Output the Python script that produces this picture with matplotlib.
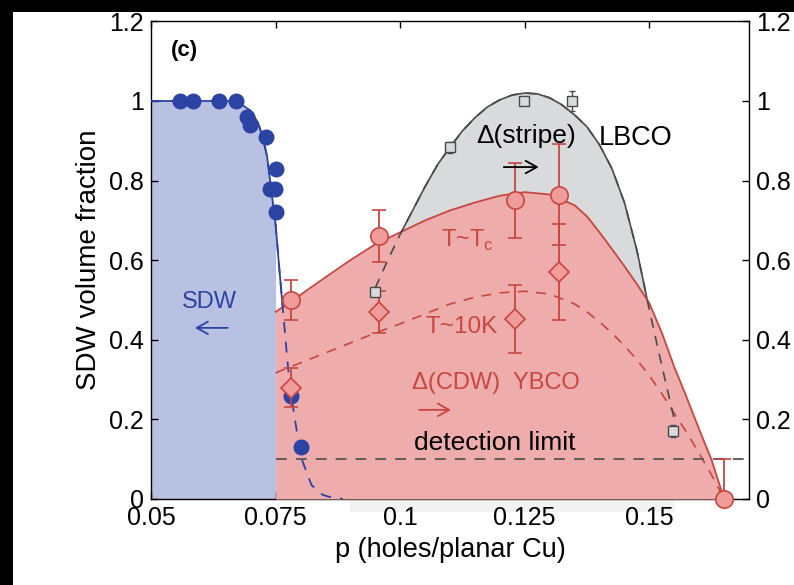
"""
SDW volume fraction vs hole doping: SDW (blue), YBCO CDW (red), LBCO stripe (grey)
"""

import matplotlib.pyplot as plt
import numpy as np
from matplotlib.patches import Rectangle

plt.rcParams.update({
    'font.family': ['Liberation Sans', 'DejaVu Sans'],
    'font.size': 18,
    'axes.linewidth': 1.0,
})

# ── colours ────────────────────────────────────────────────
C_BLUE      = '#2B43A3'
C_BLUE_FILL = '#B9C1E3'
C_RED       = '#C8463E'
C_RED_FILL  = '#EFACAC'
C_RED_MARK  = '#F09C9A'
C_GREY      = '#4A4A4A'
C_GREY_FILL = '#D9DADC'

# ── data ───────────────────────────────────────────────────
# SDW muSR points
sdw_p    = [0.0558, 0.0584, 0.0636, 0.0670, 0.0692, 0.0698, 0.0730,
            0.0750, 0.0738, 0.0748, 0.0750, 0.0780, 0.0802]
sdw_frac = [1.00, 1.00, 1.00, 1.00, 0.96, 0.94, 0.91,
            0.83, 0.78, 0.78, 0.72, 0.26, 0.13]

# SDW guide line
sdw_fit_p = [0.0500, 0.0660, 0.0678, 0.0700, 0.0715, 0.0725, 0.0733, 0.0740,
             0.0750, 0.0756, 0.0763, 0.0770, 0.0775, 0.0780, 0.0792, 0.0804,
             0.0822, 0.0845, 0.0865, 0.0885]
sdw_fit   = [1.000, 1.000, 0.995, 0.975, 0.945, 0.905, 0.860, 0.790,
             0.690, 0.600, 0.500, 0.400, 0.330, 0.270, 0.175, 0.095,
             0.035, 0.010, 0.003, 0.000]

# YBCO CDW at T~Tc (circles) and T~10K (diamonds)
tc_p      = [0.0780, 0.0958, 0.1230, 0.1318, 0.1650]
tc_frac   = [0.500, 0.660, 0.750, 0.765, 0.000]
tc_err_lo = [0.050, 0.065, 0.093, 0.128, 0.000]
tc_err_hi = [0.050, 0.065, 0.093, 0.128, 0.100]

k10_p    = [0.0780, 0.0958, 0.1230, 0.1318]
k10_frac = [0.280, 0.470, 0.452, 0.570]
k10_err  = [0.050, 0.053, 0.085, 0.120]

# guide lines for the two YBCO sets
ybco_fit_p = [0.0750, 0.0800, 0.0850, 0.0900, 0.0950, 0.1000, 0.1050, 0.1100,
              0.1150, 0.1200, 0.1250, 0.1300, 0.1350, 0.1375, 0.1400, 0.1425,
              0.1450, 0.1475, 0.1500, 0.1525, 0.1550, 0.1575, 0.1600, 0.1625,
              0.1650]
tc_fit     = [0.470, 0.513, 0.557, 0.600, 0.640, 0.670, 0.700, 0.725,
              0.745, 0.762, 0.771, 0.765, 0.738, 0.710, 0.670, 0.628,
              0.585, 0.540, 0.492, 0.418, 0.332, 0.255, 0.175, 0.098,
              0.000]
k10_fit    = [0.317, 0.342, 0.367, 0.392, 0.417, 0.440, 0.465, 0.490,
              0.507, 0.518, 0.522, 0.515, 0.490, 0.470, 0.445, 0.417,
              0.385, 0.350, 0.310, 0.265, 0.215, 0.167, 0.115, 0.060,
              0.000]

# LBCO stripe order (squares)
lbco_p    = [0.0950, 0.1100, 0.1248, 0.1344, 0.1548]
lbco_frac = [0.520, 0.884, 1.000, 1.000, 0.170]
lbco_err  = [0.000, 0.014, 0.000, 0.024, 0.015]

lbco_fit_p = [0.0950, 0.0975, 0.1000, 0.1025, 0.1050, 0.1075, 0.1100, 0.1125, 0.1150,
              0.1175, 0.1200, 0.1225, 0.1250, 0.1275, 0.1300, 0.1325, 0.1350, 0.1375,
              0.1400, 0.1425, 0.1450, 0.1475, 0.1500, 0.1525, 0.1550]
lbco_fit   = [0.530, 0.600, 0.665, 0.725, 0.785, 0.840, 0.884, 0.925, 0.958,
              0.985, 1.003, 1.015, 1.020, 1.018, 1.008, 0.990, 0.965, 0.935,
              0.890, 0.830, 0.745, 0.625, 0.475, 0.335, 0.200]

DETECTION_LIMIT = 0.1
SDW_EDGE = 0.075

x_ticks = [0.05, 0.075, 0.1, 0.125, 0.15]
x_ticklabels = ['0.05', '0.075', '0.1', '0.125', '0.15']
y_ticks = [0, 0.2, 0.4, 0.6, 0.8, 1.0, 1.2]
y_ticklabels = ['0', '0.2', '0.4', '0.6', '0.8', '1', '1.2']

# ── canvas ─────────────────────────────────────────────────
W, H = 794, 585
fig = plt.figure(figsize=(W / 100, H / 100), dpi=100, facecolor='black')
fig.add_artist(Rectangle((13 / W, 0), 1, 1 - 12 / H, transform=fig.transFigure,
                         facecolor='white', edgecolor='none', zorder=-10))
fig.add_artist(Rectangle((350 / W, 1 - 512 / H), 325 / W, 13 / H,
                         transform=fig.transFigure, facecolor='#F2F2F2',
                         edgecolor='none', zorder=-9))

ax = fig.add_axes([151 / W, 86 / H, 598 / W, 477.6 / H])
ax.set_xlim(0.05, 0.17)
ax.set_ylim(0, 1.2)

# ── filled regions ─────────────────────────────────────────
sp = np.array(sdw_fit_p)
ax.fill_between(sp, 0, sdw_fit, where=sp <= SDW_EDGE, color=C_BLUE_FILL,
                linewidth=0, zorder=1)
ax.fill_between(lbco_fit_p, 0, lbco_fit, color=C_GREY_FILL, linewidth=0, zorder=1)

# solid guide lines sit under the red fill, dashed copies go on top
ax.plot(sdw_fit_p, sdw_fit, color=C_BLUE, lw=1.3, zorder=2)
ax.plot(lbco_fit_p, lbco_fit, color=C_GREY, lw=1.2, zorder=2)

ax.fill_between(ybco_fit_p, 0, tc_fit, color=C_RED_FILL, linewidth=0, zorder=3)

ax.plot(ybco_fit_p, tc_fit, color=C_RED, lw=1.3, zorder=4)
ax.plot(ybco_fit_p, k10_fit, color=C_RED, lw=1.2, ls=(0, (6, 5)), zorder=4)
ax.plot(sdw_fit_p, sdw_fit, color=C_BLUE, lw=1.3, ls=(0, (6, 5)), zorder=4)
ax.plot(lbco_fit_p, lbco_fit, color=C_GREY, lw=1.2, ls=(0, (6, 5)), zorder=4)

ax.plot([SDW_EDGE, 0.17], [DETECTION_LIMIT, DETECTION_LIMIT], color='#555555',
        lw=1.3, ls=(0, (6, 5)), zorder=4)

# ── points ─────────────────────────────────────────────────
ax.plot(sdw_p, sdw_frac, 'o', color=C_BLUE, ms=10.5, mec=C_BLUE, zorder=5)

ax.errorbar(lbco_p, lbco_frac, yerr=lbco_err, fmt='s', ms=7, mfc=C_GREY_FILL,
            mec=C_GREY, mew=1.0, ecolor=C_GREY, elinewidth=1.0, capsize=2.5,
            zorder=6)

ax.errorbar(k10_p, k10_frac, yerr=k10_err, fmt='D', ms=10, mfc=C_RED_MARK,
            mec=C_RED, mew=1.2, ecolor=C_RED, elinewidth=1.3, capsize=5,
            zorder=6)

tc_art = ax.errorbar(tc_p, tc_frac, yerr=[tc_err_lo, tc_err_hi], fmt='o', ms=12.5,
                     mfc=C_RED_MARK, mec=C_RED, mew=1.2, ecolor=C_RED,
                     elinewidth=1.3, capsize=5, zorder=7)
tc_art[0].set_clip_on(False)

# ── annotations ────────────────────────────────────────────
def arrow(x0, x1, y, color):
    ax.annotate('', xy=(x1, y), xytext=(x0, y),
                arrowprops=dict(arrowstyle='->,head_length=0.45,head_width=0.25',
                                color=color, lw=1.3, shrinkA=0, shrinkB=0),
                zorder=8)

ax.text(0.0568, 1.128, '(c)', fontsize=16, fontweight='bold', ha='center', va='center')
ax.text(0.0618, 0.495, 'SDW', color=C_BLUE, fontsize=17, ha='center', va='center')
arrow(0.0654, 0.0588, 0.430, C_BLUE)
ax.text(0.1252, 0.912, 'Δ(stripe)', fontsize=19, ha='center', va='center')
arrow(0.1208, 0.1278, 0.834, 'black')
ax.text(0.1472, 0.907, 'LBCO', fontsize=19.5, ha='center', va='center')
ax.text(0.1135, 0.650, r'T~T$_\mathregular{c}$', color=C_RED, fontsize=17,
        ha='center', va='center')
ax.text(0.1124, 0.432, 'T~10K', color=C_RED, fontsize=17.5, ha='center', va='center')
ax.text(0.1192, 0.291, 'Δ(CDW)  YBCO', color=C_RED, fontsize=17, ha='center', va='center')
arrow(0.1038, 0.1102, 0.224, C_RED)
ax.text(0.1190, 0.140, 'detection limit', fontsize=19, ha='center', va='center')

# ── axes styling ───────────────────────────────────────────
ax.set_xticks(x_ticks)
ax.set_xticklabels(x_ticklabels)
ax.set_yticks(y_ticks)
ax.set_yticklabels(y_ticklabels)
ax.tick_params(direction='in', length=5, width=1.0, top=True, right=True,
               labelright=True, labelsize=18, pad=5)
ax.set_xlabel('p (holes/planar Cu)', fontsize=19.5, labelpad=5)
ax.set_ylabel('SDW volume fraction', fontsize=20, labelpad=5)

fig.savefig('out.png', dpi=100, facecolor=fig.get_facecolor())
plt.close(fig)
